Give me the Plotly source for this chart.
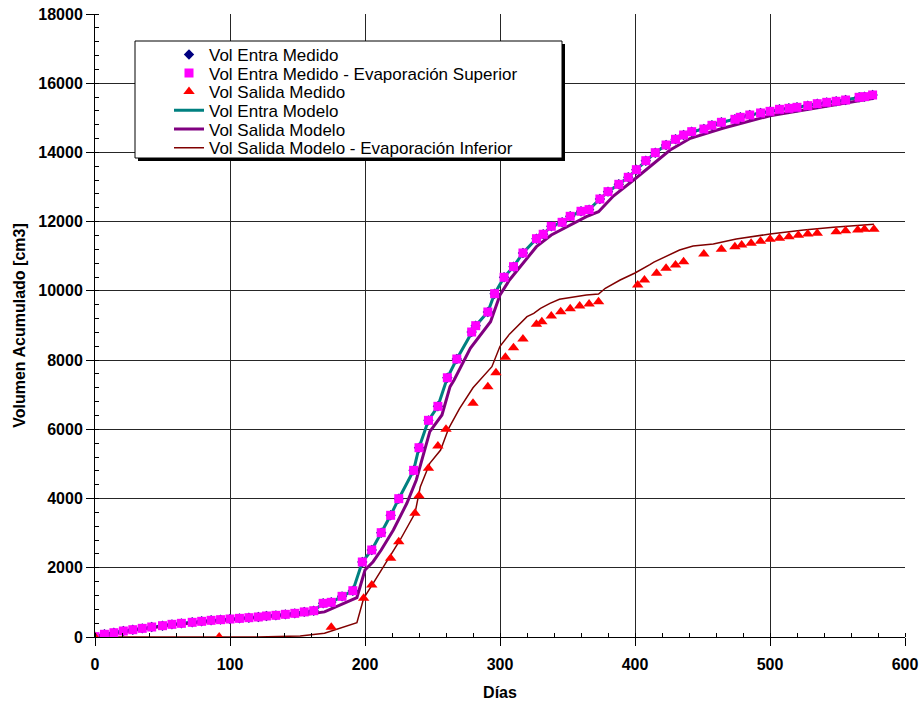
import plotly.graph_objects as go

# ---- Data ----
dias_entra_med = [0, 7, 14, 21, 28, 35, 42, 50, 57, 64, 72, 79, 86, 93, 100, 107, 114, 121, 127, 134,
                  141, 148, 155, 162, 169, 175, 183, 191, 198, 205, 212, 219, 225, 236, 240, 247, 254,
                  261, 268, 279, 282, 291, 296, 303, 310, 317, 327, 332, 338, 346, 352, 360, 366, 374,
                  380, 388, 395, 401, 408, 415, 423, 430, 436, 442, 451, 457, 464, 474, 478, 485, 493,
                  500, 507, 514, 520, 528, 535, 542, 549, 556, 566, 570, 576]
vol_entra_med = [10, 78, 124, 173, 211, 250, 289, 327, 366, 395, 424, 453, 482, 501, 520, 539, 558, 578,
                 607, 626, 655, 684, 725, 760, 973, 1002, 1175, 1338, 2167, 2514, 3014, 3516, 3996, 4815,
                 5469, 6260, 6665, 7490, 8032, 8812, 8995, 9390, 9919, 10393, 10700, 11095, 11508, 11636,
                 11866, 11982, 12155, 12300, 12348, 12655, 12867, 13079, 13282, 13502, 13762, 13993,
                 14215, 14380, 14504, 14600, 14677, 14784, 14871, 14957, 15015, 15082, 15140, 15188,
                 15246, 15275, 15304, 15352, 15409, 15448, 15478, 15515, 15593, 15612, 15660]

dias_entra_med_evap = dias_entra_med
vol_entra_med_evap = vol_entra_med

dias_salida_med = [0, 92, 175, 199, 205, 219, 225, 237, 240, 247, 254, 260, 280, 291, 297, 304, 310, 317,
                   327, 331, 338, 345, 352, 359, 366, 373, 402, 407, 416, 423, 430, 436, 451, 464, 474,
                   479, 486, 493, 500, 507, 514, 521, 528, 535, 549, 556, 565, 570, 577]
vol_salida_med = [0, 0, 280, 1118, 1502, 2273, 2754, 3574, 4083, 4873, 5518, 6000, 6752, 7232, 7637, 8081,
                  8359, 8610, 9034, 9110, 9274, 9399, 9486, 9564, 9621, 9688, 10170, 10315, 10508, 10652,
                  10748, 10844, 11066, 11201, 11277, 11326, 11375, 11432, 11490, 11519, 11567, 11606,
                  11644, 11664, 11711, 11740, 11760, 11779, 11779]

dias_entra_mod = dias_entra_med
vol_entra_mod = vol_entra_med

dias_salida_mod = [0, 30, 60, 100, 130, 157, 170, 194, 200, 206, 212, 221, 231, 238, 242, 248, 257, 263,
                   266, 278, 293, 300, 307, 317, 327, 338, 352, 364, 373, 384, 399, 411, 426, 441, 465,
                   500, 540, 577]
vol_salida_mod = [0, 200, 360, 500, 590, 660, 725, 1140, 1936, 2176, 2514, 3092, 3863, 4536, 5114, 5932,
                  6414, 7232, 7425, 8341, 9110, 9881, 10315, 10797, 11277, 11615, 11904, 12144, 12288,
                  12742, 13204, 13589, 14071, 14409, 14698, 15062, 15322, 15564]

dias_salida_mod_inf = [0, 120, 152, 170, 194, 199, 206, 218, 226, 237, 241, 248, 256, 262, 270, 280, 294,
                       300, 307, 320, 325, 330, 337, 344, 349, 364, 373, 378, 389, 400, 411, 414, 433,
                       443, 458, 475, 500, 525, 547, 577]
vol_salida_mod_inf = [0, 0, 29, 107, 413, 1118, 1551, 2320, 2803, 3574, 4343, 5018, 5403, 6029, 6600,
                      7200, 7810, 8400, 8750, 9255, 9352, 9497, 9641, 9757, 9786, 9881, 9910, 10075,
                      10315, 10517, 10760, 10830, 11181, 11297, 11355, 11499, 11644, 11759, 11837, 11924]

nombres = ["Vol Entra Medido", "Vol Entra Medido - Evaporación Superior", "Vol Salida Medido",
           "Vol Entra Modelo", "Vol Salida Modelo", "Vol Salida Modelo - Evaporación Inferior"]

FONT = "Liberation Sans, Arial, sans-serif"

# ---- Layout geometry (pixels) ----
W, H = 922, 701
ML, MR, MT, MB = 95, 17, 14, 64
PW, PH = W - ML - MR, H - MT - MB


def px(xp):
    return (xp - ML) / PW


def py(yp):
    return (H - MB - yp) / PH


fig = go.Figure()

# lines first
fig.add_trace(go.Scatter(x=dias_entra_mod, y=vol_entra_mod, mode="lines", name=nombres[3],
                         line=dict(color="#008080", width=3), legend="legend4"))
fig.add_trace(go.Scatter(x=dias_salida_mod, y=vol_salida_mod, mode="lines", name=nombres[4],
                         line=dict(color="#800080", width=3), legend="legend5"))
fig.add_trace(go.Scatter(x=dias_salida_mod_inf, y=vol_salida_mod_inf, mode="lines", name=nombres[5],
                         line=dict(color="#800000", width=1.5), legend="legend6"))
# markers on top
fig.add_trace(go.Scatter(x=dias_entra_med, y=vol_entra_med, mode="markers", name=nombres[0],
                         marker=dict(symbol="diamond", color="#000080", size=8), legend="legend"))
fig.add_trace(go.Scatter(x=dias_entra_med_evap, y=vol_entra_med_evap, mode="markers", name=nombres[1],
                         marker=dict(symbol="square", color="#FF00FF", size=9), legend="legend2"))
fig.add_trace(go.Scatter(x=dias_salida_med, y=vol_salida_med, mode="markers", name=nombres[2],
                         marker=dict(symbol="triangle-up", color="#FF0000", size=10), legend="legend3"))

# legend positions (one legend per entry to match tight spacing)
leg_y = [55, 73.5, 92, 110.7, 129.5, 148.3]
leg_keys = ["legend", "legend2", "legend3", "legend4", "legend5", "legend6"]
legends = {}
for k, yc in zip(leg_keys, leg_y):
    legends[k] = dict(x=px(169), y=py(yc), xanchor="left", yanchor="middle",
                      bgcolor="rgba(0,0,0,0)", borderwidth=0,
                      font=dict(family=FONT, size=17, color="#000000"))

shapes = [
    dict(type="rect", xref="paper", yref="paper", x0=px(138), x1=px(565), y0=py(161), y1=py(44),
         fillcolor="#000000", line=dict(width=0), layer="above"),
    dict(type="rect", xref="paper", yref="paper", x0=px(135), x1=px(562), y0=py(158), y1=py(41),
         fillcolor="#FFFFFF", line=dict(color="#000000", width=1), layer="above"),
]

axis_common = dict(
    showgrid=True, gridcolor="#262626", gridwidth=1,
    showline=True, linecolor="#000000", linewidth=1,
    zeroline=False, ticks="outside", ticklen=8, tickcolor="#000000", tickwidth=1,
    tickfont=dict(family=FONT, size=16, color="#000000", weight="bold"),
    automargin=False, tickformat="d",
)

fig.update_layout(
    width=W, height=H,
    margin=dict(l=ML, r=MR, t=MT, b=MB),
    paper_bgcolor="#FFFFFF", plot_bgcolor="#FFFFFF",
    showlegend=True,
    shapes=shapes,
    xaxis=dict(range=[0, 600], dtick=100, tick0=0, ticklabelstandoff=5,
               minor=dict(dtick=20, ticks="inside", ticklen=4, tickcolor="#000000", showgrid=False),
               title=dict(text="Días", font=dict(family=FONT, size=16, color="#000000", weight="bold"),
                          standoff=14),
               **axis_common),
    yaxis=dict(range=[0, 18000], dtick=2000, tick0=0,
               minor=dict(dtick=400, ticks="inside", ticklen=4, tickcolor="#000000", showgrid=False),
               title=dict(text="Volumen Acumulado [cm3]",
                          font=dict(family=FONT, size=16, color="#000000", weight="bold"), standoff=8),
               **axis_common),
    **legends,
)

fig.write_html("out.html")
